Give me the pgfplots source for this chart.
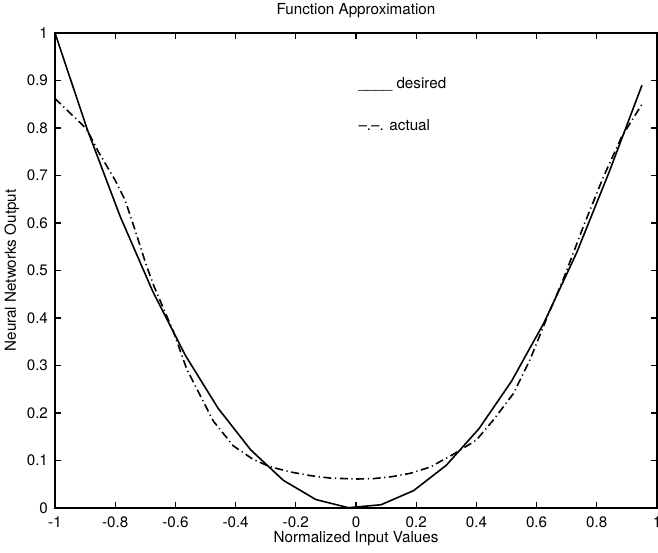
\documentclass[border=0pt]{standalone}
\usepackage{pgfplots}
\pgfplotsset{compat=1.18}
\usepackage{fontspec}
\setmainfont{TeX Gyre Heros}
\begin{document}
\begin{tikzpicture}
\begin{axis}[
  scale only axis,
  width=301pt, height=237.5pt,
  xmin=-1, xmax=1, ymin=0, ymax=1,
  xtick={-1,-0.8,...,1}, ytick={0,0.1,...,1},
  tick align=inside, tick pos=both,
  major tick length=3pt,
  axis line style={line width=0.6pt},
  tick style={line width=0.6pt, black},
  /pgf/number format/assume math mode=true,
  /pgf/number format/fixed,
  /pgf/number format/precision=1,
  xticklabel={\pgfmathprintnumber{\tick}},
  every tick label/.style={font=\fontsize{7.6}{9}\selectfont},
  xticklabel style={yshift=-1pt},
  label style={font=\fontsize{7.6}{9}\selectfont},
  title style={font=\fontsize{7.6}{9}\selectfont, yshift=-2pt},
  title={Function Approximation},
  xlabel={Normalized Input Values},
  ylabel={Neural Networks Output},
  xlabel style={yshift=5pt},
  ylabel style={yshift=-3pt},
  clip=false,
]
\addplot[black, line width=0.8pt] coordinates {
(-1.0000,1.0000) (-0.8917,0.7951) (-0.7833,0.6136) (-0.6750,0.4556)
(-0.5667,0.3211) (-0.4583,0.2101) (-0.3500,0.1225) (-0.2417,0.0584)
(-0.1333,0.0178) (-0.0250,0.0006) (0.0833,0.0069) (0.1917,0.0367)
(0.3000,0.0900) (0.4083,0.1667) (0.5167,0.2669) (0.6250,0.3906)
(0.7333,0.5378) (0.8417,0.7084) (0.9500,0.8900)
};
\addplot[black, line width=0.8pt, dash pattern=on 4pt off 1.8pt on 0.6pt off 1.8pt] coordinates {
(-1.000,0.862) (-0.895,0.798) (-0.856,0.750) (-0.800,0.690) (-0.767,0.648)
(-0.734,0.585) (-0.695,0.508) (-0.670,0.465) (-0.607,0.372) (-0.562,0.292)
(-0.474,0.183) (-0.408,0.131) (-0.341,0.102) (-0.286,0.087) (-0.219,0.076)
(-0.150,0.068) (-0.086,0.063) (0.002,0.061) (0.060,0.062) (0.120,0.066)
(0.180,0.073) (0.246,0.086) (0.323,0.113) (0.400,0.143) (0.456,0.185)
(0.523,0.241) (0.578,0.312) (0.634,0.400) (0.689,0.482) (0.755,0.592)
(0.822,0.697) (0.883,0.782) (0.952,0.852)
};
\node[anchor=base west, font=\fontsize{7.6}{9}\selectfont, inner sep=0pt] at (axis cs:0.007,0.884) {\_\_\_\_ desired};
\node[anchor=base west, font=\fontsize{7.6}{9}\selectfont, inner sep=0pt] at (axis cs:0.007,0.795) {--.--. actual};
\coordinate (sw) at (rel axis cs:0,0);
\coordinate (ne) at (rel axis cs:1,1);
\end{axis}
\pgfresetboundingbox
\path ([xshift=-27.5pt,yshift=-22pt]sw) rectangle ([xshift=0.5pt,yshift=16.5pt]ne);
\end{tikzpicture}
\end{document}
